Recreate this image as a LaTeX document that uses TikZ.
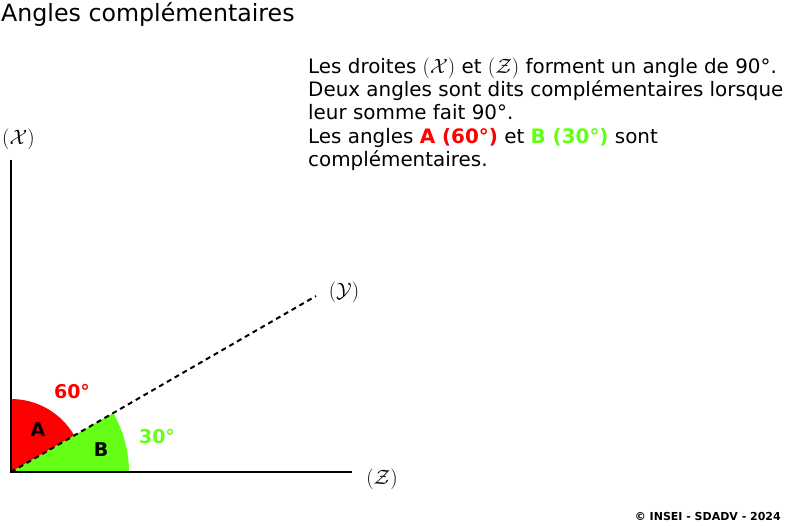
\documentclass[tikz,border=0pt]{standalone}
\usepackage{fontspec}
\setmainfont{DejaVu Sans}
\definecolor{agreen}{RGB}{100,255,20}
\definecolor{ared}{RGB}{255,0,0}
\begin{document}
\begin{tikzpicture}[x=1pt,y=1pt,
  txt/.style={inner sep=0pt,anchor=base west,font=\fontsize{19.9}{23}\selectfont},
  axis/.style={line width=2.2pt},
  lbl/.style={inner sep=0pt,font=\fontsize{19}{22}\selectfont\bfseries},
  dlbl/.style={inner sep=0pt,font=\fontsize{20}{22}\selectfont}]
\useasboundingbox (0,0) rectangle (795,525);
\coordinate (O) at (11,53);
\coordinate (xt) at (11,365);
\coordinate (ze) at (352,53);
\coordinate (ye) at (316,229);
% sectors
\fill[ared] (O) -- ++(30:73) arc[start angle=30,end angle=90,radius=73] -- cycle;
\fill[agreen] (O) -- ++(0:118) arc[start angle=0,end angle=30,radius=118] -- cycle;
\draw[line width=2pt,dash pattern=on 5pt off 4pt] (O) -- (ye);
\draw[axis] (xt) -- (O) -- (ze);
% labels
\node[dlbl,anchor=west] (lx) at (2,386) {$(\mathcal{X})$};
\node[dlbl] (ly) at (344,233) {$(\mathcal{Y})$};
\node[dlbl] (lz) at (382,46) {$(\mathcal{Z})$};
\node[lbl,text=ared] (l60) at (72,133) {60°};
\node[lbl] (la) at (38,95) {A};
\node[lbl] (lb) at (101,75) {B};
\node[lbl,text=agreen] (l30) at (157,88) {30°};
% title
\node[inner sep=0pt,anchor=base west,font=\fontsize{23.7}{26}\selectfont] (title) at (1,503) {Angles complémentaires};
% body
\node[txt] (t1) at (308,451) {Les droites $(\mathcal{X})$ et $(\mathcal{Z})$ forment un angle de 90°.};
\node[txt] (t2) at (308,428) {Deux angles sont dits complémentaires lorsque};
\node[txt] (t3) at (308,405) {leur somme fait 90°.};
\node[txt] (t4) at (308,381) {Les angles {\bfseries\color{ared}A (60°)} et {\bfseries\color{agreen}B (30°)} sont};
\node[txt] (t5) at (308,358) {complémentaires.};
\node[inner sep=0pt,anchor=base east,font=\fontsize{11}{12}\selectfont\bfseries] (copy) at (781,5) {© INSEI - SDADV - 2024};
\end{tikzpicture}
\end{document}
